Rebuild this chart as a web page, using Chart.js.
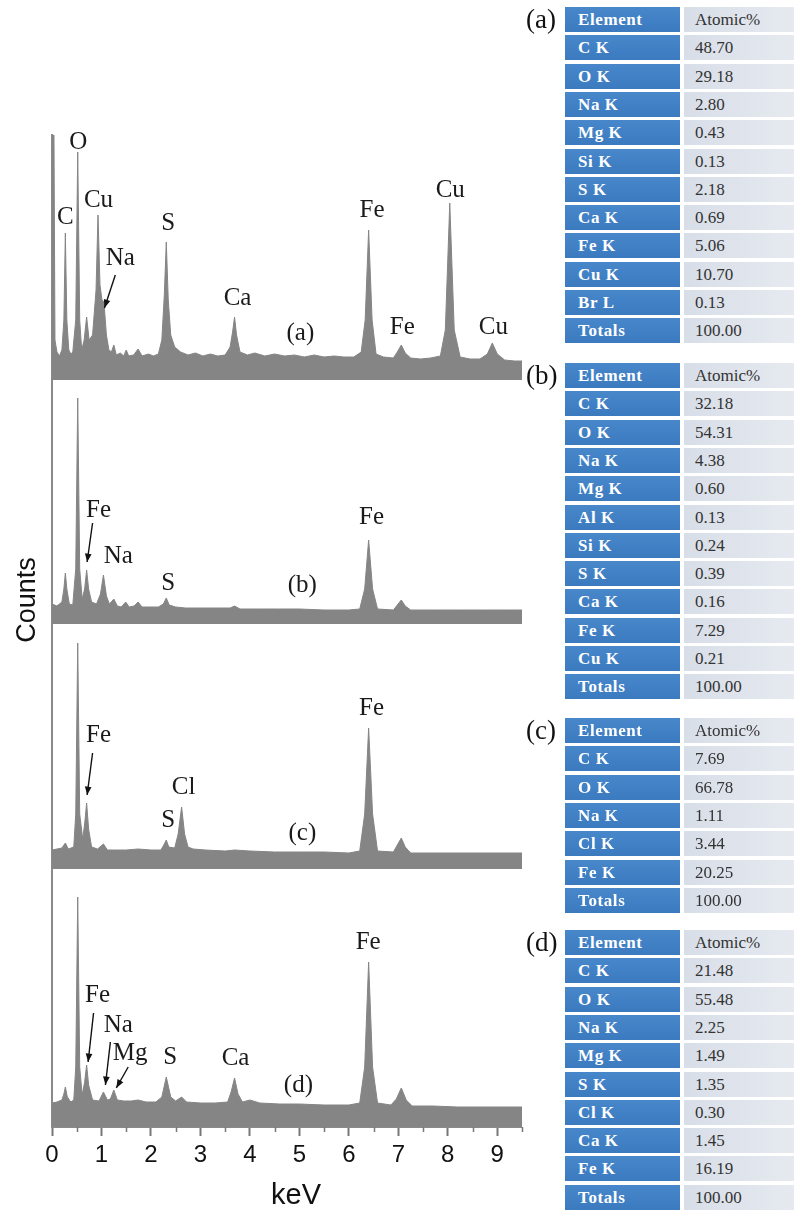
<!DOCTYPE html>
<html><head><meta charset="utf-8">
<script src="https://cdn.jsdelivr.net/npm/chart.js@4.4.1/dist/chart.umd.min.js"></script>
<style>
html,body{margin:0;padding:0;background:#fff;}
body{width:794px;height:1215px;position:relative;overflow:hidden;}
#c{position:absolute;left:0;top:0;}
.tlabel{position:absolute;font-family:"Liberation Serif",serif;font-size:27px;color:#111;line-height:27px;}
.cell{position:absolute;height:25px;line-height:25px;font-family:"Liberation Serif",serif;font-size:17px;box-sizing:border-box;white-space:nowrap;}
.el{background:linear-gradient(#4787ca,#3b7abf);color:#fff;font-weight:bold;padding-left:13px;letter-spacing:0.6px;}
.val{background:linear-gradient(90deg,#d8dee8,#e6eaf0);color:#333;padding-left:11px;}
</style></head>
<body>
<canvas id="c" width="530" height="1215"></canvas>
<div id="tables"></div>
<script>
// ---- spectrum data (energy in keV, counts in arbitrary units above each panel baseline) ----
const energyA = [0.00,0.04,0.06,0.10,0.15,0.20,0.24,0.27,0.30,0.34,0.38,0.42,0.48,0.52,0.56,0.60,0.65,0.70,0.75,0.82,0.89,0.93,0.97,1.01,1.05,1.10,1.15,1.20,1.25,1.30,1.38,1.45,1.50,1.55,1.65,1.74,1.82,1.95,2.05,2.15,2.22,2.27,2.31,2.35,2.40,2.48,2.60,2.75,2.90,3.05,3.20,3.35,3.50,3.60,3.65,3.69,3.73,3.80,3.95,4.10,4.30,4.50,4.70,4.90,5.10,5.30,5.50,5.70,5.90,6.10,6.25,6.33,6.40,6.47,6.55,6.70,6.90,6.98,7.06,7.14,7.25,7.45,7.65,7.85,7.95,8.04,8.13,8.25,8.45,8.65,8.80,8.90,9.00,9.15,9.35,9.50];
const countsA = [245,245,40,28,24,30,60,147,60,30,26,28,60,228,60,30,40,63,40,45,90,165,95,80,78,45,30,28,35,25,27,24,30,24,25,31,24,26,24,26,40,85,138,80,45,33,28,25,27,24,26,24,25,33,48,63,45,28,25,27,24,26,24,25,23,25,23,24,23,23,28,60,150,60,26,23,22,28,35,27,22,21,22,24,50,177,50,23,21,21,26,37,26,20,19,19];

const energyB = [0.00,0.10,0.20,0.24,0.27,0.30,0.35,0.42,0.48,0.52,0.56,0.61,0.66,0.70,0.74,0.80,0.90,0.98,1.04,1.10,1.16,1.25,1.32,1.40,1.49,1.56,1.66,1.74,1.82,2.00,2.15,2.25,2.31,2.37,2.50,2.70,3.00,3.30,3.60,3.69,3.80,4.20,4.60,5.00,5.50,6.00,6.22,6.32,6.40,6.48,6.58,6.90,6.98,7.06,7.14,7.25,7.70,8.20,8.70,9.20,9.50];
const countsB = [20,18,22,35,51,35,20,19,55,226,55,25,35,54,35,22,20,30,49,28,20,25,18,17,22,17,18,22,17,17,17,20,26,19,17,16,16,16,16,18,15,15,15,15,14,14,15,35,84,35,15,14,19,24,18,14,14,14,14,14,14];

const energyC = [0.00,0.10,0.20,0.27,0.33,0.44,0.48,0.52,0.56,0.62,0.66,0.70,0.74,0.80,0.92,1.04,1.12,1.30,1.50,1.74,2.00,2.20,2.26,2.31,2.36,2.48,2.55,2.62,2.68,2.75,2.85,3.10,3.50,3.69,4.00,4.50,5.00,5.50,6.00,6.22,6.32,6.40,6.48,6.58,6.90,6.98,7.06,7.14,7.25,7.70,8.20,8.70,9.20,9.50];
const countsC = [19,20,21,26,20,22,55,226,55,30,45,66,40,22,20,25,19,19,19,20,19,19,24,29,22,21,35,62,35,22,20,19,18,19,18,17,17,17,16,18,55,141,55,18,17,24,31,22,16,16,16,16,16,16];

const energyD = [0.00,0.10,0.20,0.24,0.27,0.31,0.38,0.44,0.48,0.52,0.56,0.61,0.66,0.70,0.74,0.82,0.95,1.04,1.12,1.18,1.25,1.32,1.45,1.60,1.74,1.90,2.10,2.22,2.31,2.40,2.50,2.62,2.72,3.00,3.30,3.55,3.62,3.69,3.76,3.85,4.00,4.20,4.60,5.00,5.50,6.00,6.22,6.32,6.40,6.48,6.58,6.85,6.96,7.06,7.16,7.28,7.70,8.20,8.70,9.20,9.50];
const countsD = [24,25,27,33,40,30,25,27,60,230,60,32,45,62,42,27,26,35,27,28,37,27,26,26,27,25,25,30,50,30,26,30,25,24,24,25,35,49,33,25,27,24,23,23,22,22,24,60,165,60,24,22,28,39,27,21,21,20,20,20,20];

const panelNames = ['(a)','(b)','(c)','(d)'];
const xTickLabels = ['0','1','2','3','4','5','6','7','8','9'];

// ---- table data ----
const elementsA = ['C K','O K','Na K','Mg K','Si K','S K','Ca K','Fe K','Cu K','Br L','Totals'];
const atomicA   = ['48.70','29.18','2.80','0.43','0.13','2.18','0.69','5.06','10.70','0.13','100.00'];
const elementsB = ['C K','O K','Na K','Mg K','Al K','Si K','S K','Ca K','Fe K','Cu K','Totals'];
const atomicB   = ['32.18','54.31','4.38','0.60','0.13','0.24','0.39','0.16','7.29','0.21','100.00'];
const elementsC = ['C K','O K','Na K','Cl K','Fe K','Totals'];
const atomicC   = ['7.69','66.78','1.11','3.44','20.25','100.00'];
const elementsD = ['C K','O K','Na K','Mg K','S K','Cl K','Ca K','Fe K','Totals'];
const atomicD   = ['21.48','55.48','2.25','1.49','1.35','0.30','1.45','16.19','100.00'];

// ---- layout (not data) ----
const panelBase = [747, 503, 258, 0];   // vertical offset of each stacked spectrum
const tableTops = [7, 363, 718, 930];

// peak labels: [text, keV, y, panel index]
const peakLabels = [
 ['O',0.53,238,0],['C',0.27,163,0],['Cu',0.94,180,0],['Na',1.38,122,0],['S',2.35,157,0],['Ca',3.75,82,0],['(a)',5.02,47,0],
 ['Fe',6.47,170,0],['Cu',8.05,190,0],['Fe',7.08,53,0],['Cu',8.92,53,0],
 ['Fe',0.94,114,1],['Na',1.34,68,1],['S',2.35,41,1],['(b)',5.06,39,1],['Fe',6.46,107,1],
 ['Fe',0.94,134,2],['Cl',2.66,82,2],['S',2.35,49,2],['(c)',5.06,36,2],['Fe',6.46,161,2],
 ['Fe',0.92,132,3],['Na',1.34,102,3],['Mg',1.58,74,3],['S',2.39,70,3],['Ca',3.71,69,3],['(d)',4.98,42,3],['Fe',6.39,185,3]
];
// arrows: [x1,y1,x2,y2,panel]
const arrows = [
 [1.28,105,1.06,72,0],
 [0.82,101,0.71,62,1],
 [0.82,116,0.71,74,2],
 [0.84,114,0.73,65,3],[1.18,85,1.08,42,3],[1.54,60,1.30,39,3]
];

function series(en, ct, base){ return en.map((e,i)=>({x:e, y:ct[i]+base})); }

const annot = {
  id:'annot',
  afterDatasetsDraw(chart){
    const {ctx, scales:{x,y}} = chart;
    ctx.save();
    // minor ticks
    ctx.strokeStyle='#777'; ctx.lineWidth=1.5;
    for(let v=0.5; v<9.6; v+=1){
      const px=Math.round(x.getPixelForValue(v))+0.5;
      ctx.beginPath(); ctx.moveTo(px,y.bottom); ctx.lineTo(px,y.bottom+5); ctx.stroke();
    }
    ctx.fillStyle='#1a1a1a';
    ctx.font='25px "Liberation Serif", serif';
    ctx.textAlign='center'; ctx.textBaseline='middle';
    peakLabels.forEach(([t,kx,ky,p])=>{
      ctx.fillText(t, x.getPixelForValue(kx), y.getPixelForValue(ky+panelBase[p]));
    });
    ctx.strokeStyle='#111'; ctx.lineWidth=1.4;
    arrows.forEach(([x1,y1,x2,y2,p])=>{
      const X1=x.getPixelForValue(x1), Y1=y.getPixelForValue(y1+panelBase[p]);
      const X2=x.getPixelForValue(x2), Y2=y.getPixelForValue(y2+panelBase[p]);
      ctx.beginPath(); ctx.moveTo(X1,Y1); ctx.lineTo(X2,Y2); ctx.stroke();
      const a=Math.atan2(Y2-Y1,X2-X1), L=9, w=0.38;
      ctx.beginPath(); ctx.moveTo(X2,Y2);
      ctx.lineTo(X2-L*Math.cos(a-w), Y2-L*Math.sin(a-w));
      ctx.lineTo(X2-L*Math.cos(a+w), Y2-L*Math.sin(a+w));
      ctx.closePath(); ctx.fillStyle='#111'; ctx.fill();
    });
    // axis titles
    ctx.fillStyle='#111';
    ctx.font='29px "Liberation Sans", Arial, sans-serif';
    ctx.textAlign='center'; ctx.textBaseline='middle';
    ctx.fillText('keV', 296, 1196);
    ctx.translate(28, 600); ctx.rotate(-Math.PI/2);
    ctx.font='27px "Liberation Sans", Arial, sans-serif';
    ctx.fillText('Counts', 0, 0);
    ctx.restore();
  }
};

const fillCol = '#858585';
const datasets = [[energyA,countsA],[energyB,countsB],[energyC,countsC],[energyD,countsD]].map(([e,c],i)=>({
  label: panelNames[i],
  data: series(e,c,panelBase[i]),
  borderColor: fillCol, backgroundColor: fillCol, borderWidth: 1,
  pointRadius: 0, tension: 0,
  fill: {value: panelBase[i]}
}));

new Chart(document.getElementById('c'), {
  type:'line',
  data:{datasets},
  options:{
    responsive:false, animation:false, devicePixelRatio:1,
    layout:{padding:{top:135,left:0,right:8,bottom:0}},
    plugins:{legend:{display:false}, tooltip:{enabled:false}},
    scales:{
      x:{type:'linear', min:0, max:9.5,
        afterFit(s){ s.height = 88; },
        border:{display:true,color:'#8a8a8a',width:1},
        grid:{display:true, drawOnChartArea:false, drawTicks:true, tickLength:9,
              tickColor:(c)=> (c.tick && Number.isInteger(c.tick.value)) ? '#777' : 'rgba(0,0,0,0)', tickWidth:2},
        ticks:{stepSize:0.5, autoSkip:false, maxRotation:0, padding:5, color:'#111',
               font:{family:'"Liberation Sans", Arial, sans-serif', size:24},
               callback:(v)=> Number.isInteger(v) ? xTickLabels[v] : ''}
      },
      y:{min:0, max:992,
        afterFit(s){ s.width = 52; },
        border:{display:true,color:'#8a8a8a',width:2},
        grid:{display:false},
        ticks:{display:false}
      }
    }
  },
  plugins:[annot]
});

// ---- tables ----
const tables = [[elementsA,atomicA],[elementsB,atomicB],[elementsC,atomicC],[elementsD,atomicD]];
const host = document.getElementById('tables');
const pitch = 28.3;
tables.forEach(([els,vals],t)=>{
  const top = tableTops[t];
  const lab = document.createElement('div');
  lab.className='tlabel'; lab.textContent=panelNames[t];
  lab.style.left='526px'; lab.style.top=(top-1)+'px';
  host.appendChild(lab);
  const rows = [['Element','Atomic%']].concat(els.map((e,i)=>[e,vals[i]]));
  rows.forEach(([e,v],i)=>{
    const y = Math.round(top + i*pitch);
    const a=document.createElement('div'); a.className='cell el'; a.textContent=e;
    a.style.left='565px'; a.style.top=y+'px'; a.style.width='115px';
    const b=document.createElement('div'); b.className='cell val'; b.textContent=v;
    b.style.left='684px'; b.style.top=y+'px'; b.style.width='110px';
    host.appendChild(a); host.appendChild(b);
  });
});
</script>
</body></html>
